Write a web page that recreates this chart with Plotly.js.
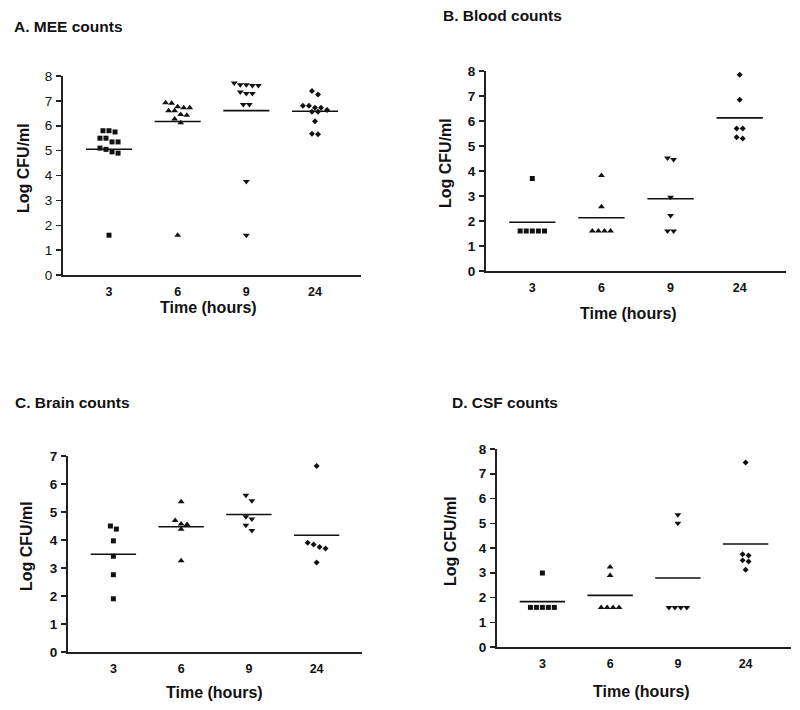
<!DOCTYPE html>
<html>
<head>
<meta charset="utf-8">
<script src="https://cdn.plot.ly/plotly-3.0.1.min.js"></script>
<style>
  html, body { margin: 0; padding: 0; background: #fff; }
  #chart { width: 800px; height: 710px; }
</style>
</head>
<body>
<div id="chart"></div>
<script>
// ---- Data (Log CFU/ml) ----
const categories = ['3', '6', '9', '24'];
const panelTitles = ['A. MEE counts', 'B. Blood counts', 'C. Brain counts', 'D. CSF counts'];
const yTitle = 'Log CFU/ml';
const xTitle = 'Time (hours)';

const mee3  = [5.8, 5.75, 5.8, 5.5, 5.5, 5.35, 5.35, 5.1, 4.95, 4.9, 5.05, 1.6];
const mee6  = [6.92, 6.76, 6.72, 6.72, 6.9, 6.6, 6.6, 6.42, 6.45, 6.27, 6.12, 1.6];
const mee9  = [7.72, 7.65, 7.62, 7.62, 7.65, 7.3, 7.3, 7.36, 6.85, 6.85, 3.76, 1.6];
const mee24 = [7.4, 7.26, 6.8, 6.8, 6.72, 6.72, 6.63, 6.56, 6.56, 6.18, 5.68, 5.66];

const blood3  = [3.7, 1.6, 1.6, 1.6, 1.6, 1.6];
const blood6  = [3.82, 2.57, 1.6, 1.6, 1.6, 1.6];
const blood9  = [4.52, 4.46, 2.95, 2.22, 1.6, 1.6];
const blood24 = [7.85, 6.85, 5.7, 5.7, 5.35, 5.3];

const brain3  = [4.5, 4.39, 3.97, 3.42, 2.76, 1.9];
const brain6  = [5.37, 4.7, 4.57, 4.55, 4.38, 3.26];
const brain9  = [5.6, 5.4, 4.83, 4.75, 4.53, 4.34];
const brain24 = [6.64, 3.9, 3.84, 3.75, 3.7, 3.2];

const csf3  = [2.99, 1.6, 1.6, 1.6, 1.6, 1.6];
const csf6  = [3.23, 2.89, 1.6, 1.6, 1.6, 1.6];
const csf9  = [5.34, 5.0, 1.6, 1.6, 1.6, 1.6];
const csf24 = [7.45, 3.75, 3.7, 3.5, 3.45, 3.12];

const panelData = [
  [mee3, mee6, mee9, mee24],
  [blood3, blood6, blood9, blood24],
  [brain3, brain6, brain9, brain24],
  [csf3, csf6, csf9, csf24]
];
const yMax = [8, 8, 7, 8];

// ---- Layout geometry (pixels) ----
const W = 800, H = 710;
const boxes = [
  { x0: 63,  x1: 361, y0: 76,  y1: 275 },
  { x0: 486, x1: 786, y0: 71,  y1: 271 },
  { x0: 68,  x1: 362, y0: 456, y1: 652 },
  { x0: 497, x1: 791, y0: 449, y1: 647 }
];
const symbols = ['square', 'triangle-up', 'triangle-down', 'diamond'];
const sizes = [5, 6, 6, 4.6];
const FONT = 'Liberation Sans, Arial, Helvetica, sans-serif';

// Prism-like row spreading of points with close values
function spread(values, center, step, tol) {
  const idx = values.map((v, i) => i).sort((a, b) => values[b] - values[a]);
  const xs = new Array(values.length);
  let k = 0;
  while (k < idx.length) {
    let j = k;
    const top = values[idx[k]];
    while (j < idx.length && top - values[idx[j]] <= tol) j++;
    const n = j - k;
    for (let m = 0; m < n; m++) xs[idx[k + m]] = center + (m - (n - 1) / 2) * step;
    k = j;
  }
  return xs;
}
const mean = a => a.reduce((s, v) => s + v, 0) / a.length;

const traces = [];
const layout = {
  width: W, height: H,
  margin: { l: 0, r: 0, t: 0, b: 0 },
  paper_bgcolor: '#fff', plot_bgcolor: '#fff',
  showlegend: false,
  font: { family: FONT, color: '#111' },
  annotations: []
};

panelData.forEach((groups, p) => {
  const sfx = p === 0 ? '' : String(p + 1);
  const xa = 'x' + sfx, ya = 'y' + sfx;
  groups.forEach((vals, g) => {
    traces.push({
      type: 'scatter', mode: 'markers', xaxis: xa, yaxis: ya,
      x: spread(vals, g, 0.088, 0.205), y: vals,
      marker: { symbol: symbols[g], size: sizes[g], color: '#111', line: { width: 0 } },
      hoverinfo: 'y'
    });
  });
  const lx = [], ly = [];
  groups.forEach((vals, g) => {
    const m = mean(vals);
    lx.push(g - 0.335, g + 0.335, null);
    ly.push(m, m, null);
  });
  traces.push({
    type: 'scatter', mode: 'lines', xaxis: xa, yaxis: ya,
    x: lx, y: ly, line: { color: '#111', width: 1.6 }, hoverinfo: 'skip'
  });

  const b = boxes[p];
  layout['xaxis' + sfx] = {
    domain: [b.x0 / W, b.x1 / W],
    range: [-0.67, 3.67],
    anchor: ya,
    tickmode: 'array', tickvals: [0, 1, 2, 3], ticktext: categories,
    ticks: '', showgrid: false, zeroline: false,
    showline: true, linecolor: '#222', linewidth: 2,
    tickfont: { family: FONT, size: 12.5, weight: 'bold', color: '#111' },
    ticklabelstandoff: 4,
    fixedrange: true
  };
  layout['yaxis' + sfx] = {
    domain: [1 - b.y1 / H, 1 - b.y0 / H],
    range: [0, yMax[p]],
    anchor: xa,
    dtick: 1, tick0: 0,
    ticks: 'outside', ticklen: 5, tickwidth: 1.5, tickcolor: '#222',
    showgrid: false, zeroline: false,
    showline: true, linecolor: '#222', linewidth: 2,
    tickfont: { family: FONT, size: 13.5, weight: p === 0 ? 'normal' : 'bold', color: '#111' },
    ticklabelstandoff: 1,
    fixedrange: true
  };
});

// Titles as annotations (pixel-placed)
const titlePos = [[12, 27], [441, 16], [13, 402], [450, 402]];
const yTitlePos = [[23, 168], [445, 163], [26, 546], [450, 541]];
const xTitlePos = [[208, 307], [628, 313], [214, 692], [641, 691]];
const P = (px, py) => ({ x: px / W, y: 1 - py / H });
panelTitles.forEach((t, p) => {
  const a = P(titlePos[p][0], titlePos[p][1]);
  layout.annotations.push({ xref: 'paper', yref: 'paper', x: a.x, y: a.y, xanchor: 'left', yanchor: 'middle',
    text: t, showarrow: false, font: { family: FONT, size: 15.5, weight: 'bold', color: '#111' } });
  const c = P(yTitlePos[p][0], yTitlePos[p][1]);
  layout.annotations.push({ xref: 'paper', yref: 'paper', x: c.x, y: c.y, xanchor: 'center', yanchor: 'middle',
    text: yTitle, textangle: -90, showarrow: false, font: { family: FONT, size: 16, weight: 'bold', color: '#111' } });
  const d = P(xTitlePos[p][0], xTitlePos[p][1]);
  layout.annotations.push({ xref: 'paper', yref: 'paper', x: d.x, y: d.y, xanchor: 'center', yanchor: 'middle',
    text: xTitle, showarrow: false, font: { family: FONT, size: 16, weight: 'bold', color: '#111' } });
});

Plotly.newPlot('chart', traces, layout, { displayModeBar: false, staticPlot: true });
</script>
</body>
</html>
